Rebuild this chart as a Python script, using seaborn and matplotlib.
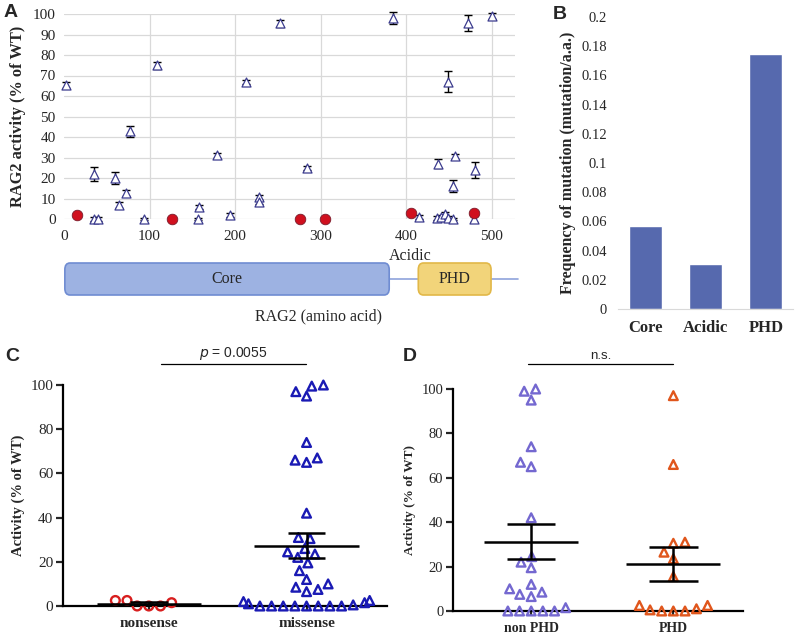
import numpy as np
import pandas as pd
import matplotlib
matplotlib.use('Agg')
import matplotlib.pyplot as plt
from matplotlib.patches import FancyBboxPatch
import seaborn as sns

# ---- panel A: activity of each RAG2 mutant along the protein ----
mis_pos = [2, 35, 35, 40, 60, 64, 72, 77, 94, 109, 156, 158, 179, 194, 213, 228, 228,
           252, 284, 384, 415, 436, 441, 445, 449, 454, 437, 449, 454, 457, 472, 479, 480, 500]
mis_act = [65.4, 22, 0, 0, 20, 6.8, 12.5, 42.8, 0, 75, 0, 5.7, 31, 2, 67, 10.5, 8.5,
           95.4, 24.7, 98, 1, 0.5, 1, 2.5, 0.5, 0, 27, 67, 16, 30.5, 95.5, 0, 24, 99]
mis_err = [1.5, 3.3, 0.8, 0.8, 2.8, 1.5, 1.5, 2.6, 0.5, 1.7, 0.5, 1, 1, 1, 1, 1.2, 1,
           1.5, 1, 3, 1, 1, 1, 1, 1, 0.5, 2.3, 5, 3, 1, 4, 1.5, 4, 1.5]
non_pos = [15, 126, 276, 305, 406, 479]
non_act = [2, 0, 0, 0, 3, 3]

domain_names = ['Core', 'PHD']
domain_start = [1, 414]
domain_end = [380, 499]

# ---- panel B: mutation frequency per domain ----
regions = ['Core', 'Acidic', 'PHD']
freq = [0.057, 0.031, 0.175]

# ---- panel C: nonsense vs missense ----
nonsense = [2.5, 0, 0, 0, 1.5, 2.5]
missense = [100, 97, 95, 99.5, 74, 66, 65, 67, 42,
            31, 30.5, 24.5, 26, 23.5, 22, 19.5, 16, 12, 10, 7.5, 6.5, 8.5,
            2.5, 1.5, 0.5, 0, 0, 0, 0, 0, 0, 0, 0, 1, 2]

# ---- panel D: non PHD vs PHD ----
non_phd = [100, 99, 95, 74, 65, 67, 42, 24.5, 22, 19.5, 12, 10, 7.5, 6.5, 8.5,
           0, 0, 0, 0, 0, 1.5]
phd = [97, 66, 31, 30.5, 26.5, 23.5, 15.5, 2.5, 1, 0, 0, 0, 0.5, 2.5]

sns.set_style('white')
plt.rcParams['font.family'] = ['Liberation Serif', 'DejaVu Serif']
SANS = 'Liberation Sans'

fig = plt.figure(figsize=(8, 6.34), dpi=100)
W, H = 800, 634


def box(l, t, r, b):
    return [l / W, 1 - b / H, (r - l) / W, (b - t) / H]


# ================= A =================
axA = fig.add_axes(box(64, 14, 515, 219))
axA.set_xlim(0, 527)
axA.set_ylim(0, 100)
axA.errorbar(mis_pos, mis_act, yerr=mis_err, fmt='none', ecolor='black',
             elinewidth=1, capsize=3, capthick=1, zorder=3, clip_on=False)
sns.scatterplot(x=mis_pos, y=mis_act, marker='^', s=42, facecolor='white',
                edgecolor='#3c3c8e', linewidth=0.9, zorder=4, ax=axA, clip_on=False)
sns.scatterplot(x=non_pos, y=non_act, marker='o', s=58, color='#d0101e',
                edgecolor='#7a1a2a', linewidth=0.6, zorder=5, ax=axA, clip_on=False)
axA.set_xticks(range(0, 501, 100))
axA.set_yticks(range(0, 101, 10))
axA.grid(True, color='#d9d9d9', lw=0.9)
axA.get_xgridlines()[0].set_visible(False)
axA.set_axisbelow(True)
for s in axA.spines.values():
    s.set_visible(False)
axA.tick_params(length=0, labelsize=11)
axA.tick_params(axis='x', pad=8)
axA.tick_params(axis='y', pad=6)
axA.set_ylabel('RAG2 activity (% of WT)', fontsize=11.8, fontweight='bold', labelpad=5)
fig.text(4 / W, 1 - 17 / H, 'A', fontsize=14, fontweight='bold', family=SANS)

# domain diagram under A
axG = fig.add_axes(box(64, 240, 515, 330))
axG.set_xlim(0, 527)
axG.set_ylim(330, 240)
axG.axis('off')
axG.plot([domain_end[0], 530], [279, 279], color='#8fa3dc', lw=1.2, zorder=1, clip_on=False)
fills = ['#9db2e2', '#f2d47a']
edges = ['#6f8cd2', '#e2b848']
for name, a, b, fc, ec in zip(domain_names, domain_start, domain_end, fills, edges):
    p = FancyBboxPatch((a, 263), b - a, 32, boxstyle='round,pad=0,rounding_size=6',
                       mutation_aspect=1.1, fc=fc, ec=ec, lw=1.2, zorder=2)
    axG.add_patch(p)
    axG.text((a + b) / 2, 279, name, ha='center', va='center', fontsize=11.5, zorder=3)
axG.text(404, 256, 'Acidic', ha='center', va='center', fontsize=11.5)
axG.text(297, 316, 'RAG2 (amino acid)', ha='center', va='center', fontsize=11.5)

# ================= B =================
axB = fig.add_axes(box(618, 17, 793, 309))
sns.barplot(x=regions, y=freq, color='#5669ae', saturation=1, width=0.55, ax=axB)
axB.set_xlim(-0.45, 2.45)
axB.set_ylim(0, 0.2)
bt = np.round(np.arange(0, 0.201, 0.02), 2)
axB.set_yticks(bt)
axB.set_yticklabels([f'{v:g}' for v in bt])
for k in ['left', 'top', 'right']:
    axB.spines[k].set_visible(False)
axB.spines['bottom'].set_color('#d9d9d9')
axB.tick_params(length=0, labelsize=10.5)
axB.tick_params(axis='x', pad=8)
axB.tick_params(axis='y', pad=8)
for t in axB.get_xticklabels():
    t.set_fontweight('bold')
    t.set_fontsize(12)
axB.set_ylabel('Frequency of mutation (mutation/a.a.)', fontsize=11.5, fontweight='bold',
               labelpad=4)
fig.text(553 / W, 1 - 19 / H, 'B', fontsize=14, fontweight='bold', family=SANS)


# ================= C & D =================
def dot_panel(ax, names, groups, markers, colors, cap):
    for name, vals, m, c in zip(names, groups, markers, colors):
        df = pd.DataFrame({'group': name, 'value': vals})
        sns.swarmplot(data=df, x='group', y='value', order=names, marker=m, size=6.3,
                      color=c, facecolor='none', edgecolor=c, linewidth=1.7, ax=ax)
    for coll in ax.collections:
        if len(coll.get_offsets()) > 0:
            coll.set_clip_on(False)
    for i, vals in enumerate(groups):
        v = np.array(vals, dtype=float)
        m = v.mean()
        se = v.std(ddof=1) / np.sqrt(len(v))
        ax.hlines(m, i - 0.33, i + 0.33, color='black', lw=1.8, zorder=5)
        ax.vlines(i, m - se, m + se, color='black', lw=1.8, zorder=5)
        ax.hlines([m - se, m + se], i - cap, i + cap, color='black', lw=1.8, zorder=5)
    ax.set_ylim(0, 100)
    ax.set_yticks(range(0, 101, 20))
    ax.set_xlabel('')
    ax.set_ylabel('Activity (% of WT)', fontsize=10.5, fontweight='bold')
    for k in ['top', 'right']:
        ax.spines[k].set_visible(False)
    for k in ['left', 'bottom']:
        ax.spines[k].set_linewidth(1.6)
        ax.spines[k].set_color('black')
    ax.tick_params(axis='y', direction='out', length=5, width=1.6, labelsize=11, pad=2)
    ax.tick_params(axis='x', direction='out', length=3, width=1.6, labelsize=11, pad=5)
    ax.tick_params(left=True, bottom=True)
    for t in ax.get_xticklabels():
        t.set_fontweight('bold')


axC = fig.add_axes(box(63, 385, 387, 606))
dot_panel(axC, ['nonsense', 'missense'], [nonsense, missense], ['o', '^'],
          ['#d81e1e', '#1a1ab4'], 0.12)
axC.set_xlim(-0.544, 1.51)
axC.plot([0.076, 0.994], [109.5, 109.5], color='black', lw=0.9, clip_on=False)
axC.text(0.535, 110.5, r'$\it{p}$ = 0.0055', ha='center', va='bottom', fontsize=10,
         family=SANS)
fig.text(5 / W, 1 - 361 / H, 'C', fontsize=14, fontweight='bold', family=SANS)

axD = fig.add_axes(box(453, 389, 743, 611))
dot_panel(axD, ['non PHD', 'PHD'], [non_phd, phd], ['^', '^'],
          ['#7468d0', '#e0561c'], 0.17)
axD.set_xlim(-0.55, 1.49)
axD.plot([-0.02, 1.0], [111.3, 111.3], color='black', lw=0.9, clip_on=False)
axD.text(0.49, 112.3, 'n.s.', ha='center', va='bottom', fontsize=9.5, family=SANS)
axD.set_ylabel('Activity (% of WT)', fontsize=9.5, fontweight='bold')
axD.tick_params(labelsize=10.5)
for t in axD.get_xticklabels():
    t.set_fontsize(10)
fig.text(403 / W, 1 - 361 / H, 'D', fontsize=14, fontweight='bold', family=SANS)

fig.savefig('out.png', dpi=100)
